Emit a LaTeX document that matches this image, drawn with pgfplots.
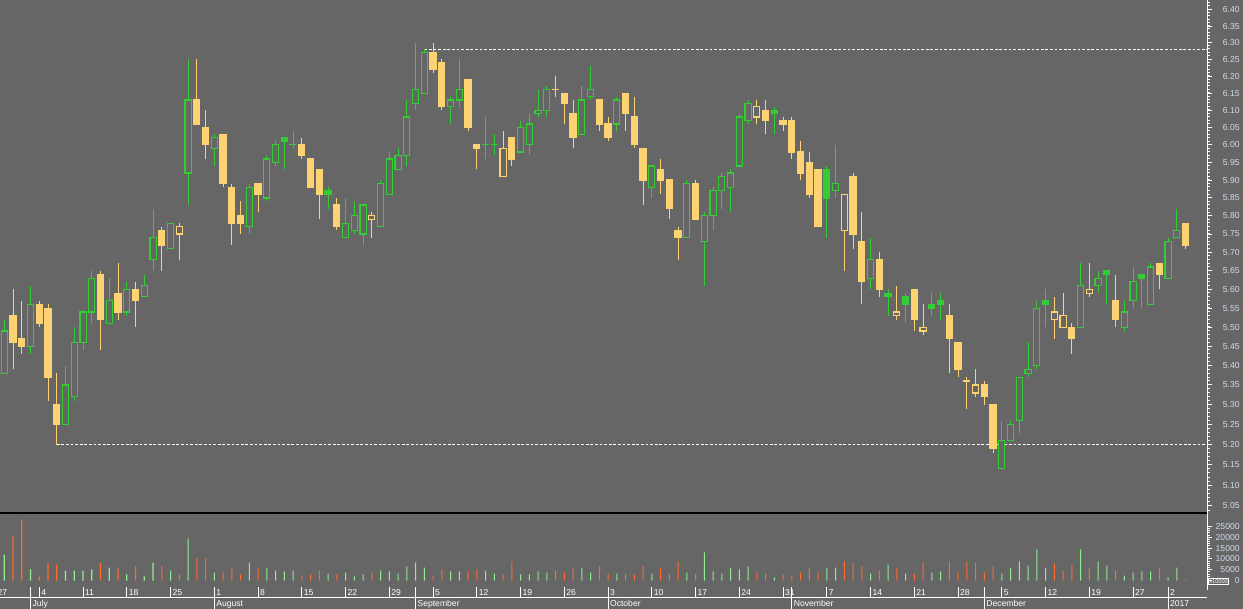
\documentclass[border=0pt]{standalone}
\usepackage{fontspec}
\setmainfont{Liberation Sans}
\usepackage{pgfplots}
\usepackage{pgfplotstable}
\pgfplotsset{compat=1.18}

\definecolor{bg}{HTML}{666666}
\definecolor{upgreen}{HTML}{33CC33}
\definecolor{downyellow}{HTML}{FDD273}
\definecolor{volgreen}{HTML}{90EE90}
\definecolor{volorange}{HTML}{FF6A2A}
\definecolor{labelcol}{HTML}{D0DCEB}

\newcommand\lblfont{\fontsize{4.3}{5}\selectfont}

% t: 0 green hollow, 1 yellow filled, 2 yellow hollow, 3 green filled
\pgfplotstableread{
i o h l c t v
1 5.38 5.52 5.38 5.49 0 12000
2 5.53 5.60 5.39 5.46 1 20400
3 5.47 5.57 5.43 5.45 1 28200
4 5.45 5.61 5.43 5.56 0 5100
5 5.56 5.57 5.50 5.51 1 1900
6 5.55 5.56 5.31 5.37 1 8300
7 5.30 5.38 5.20 5.25 1 7400
8 5.25 5.40 5.25 5.35 0 4600
9 5.32 5.50 5.31 5.46 0 4600
10 5.46 5.54 5.44 5.54 0 4600
11 5.54 5.65 5.51 5.63 0 5100
12 5.64 5.65 5.44 5.52 1 8300
13 5.51 5.63 5.51 5.57 0 6000
14 5.59 5.67 5.52 5.54 1 5600
15 5.54 5.62 5.53 5.60 0 2800
16 5.60 5.62 5.50 5.57 1 6500
17 5.58 5.64 5.58 5.61 0 1900
18 5.68 5.82 5.65 5.74 0 8300
19 5.76 5.77 5.65 5.72 1 6900
20 5.71 5.78 5.71 5.78 0 4600
21 5.75 5.78 5.68 5.77 2 2800
22 5.92 6.25 5.83 6.13 0 19400
23 6.13 6.25 6.06 6.06 1 10600
24 6.05 6.10 5.96 6.00 1 10200
25 5.99 6.03 5.94 6.02 0 3700
26 6.03 6.03 5.88 5.89 1 3700
27 5.88 5.89 5.72 5.78 1 6000
28 5.80 5.84 5.75 5.78 1 2800
29 5.77 5.89 5.75 5.88 0 8300
30 5.89 5.89 5.81 5.86 1 6000
31 5.85 5.97 5.84 5.96 0 6000
32 5.95 6.01 5.94 6.00 0 4600
33 6.02 6.02 5.93 6.01 3 4200
34 6.00 6.04 5.99 6.00 3 4600
35 6.00 6.02 5.96 5.97 1 2300
36 5.96 5.96 5.88 5.88 1 2800
37 5.93 5.93 5.79 5.86 1 4600
38 5.87 5.88 5.82 5.86 3 3200
39 5.83 5.85 5.76 5.77 1 2800
40 5.74 5.85 5.74 5.78 0 3700
41 5.76 5.84 5.75 5.80 0 1900
42 5.75 5.83 5.72 5.83 0 2800
43 5.79 5.81 5.74 5.80 2 3700
44 5.77 5.90 5.77 5.89 0 4600
45 5.86 5.98 5.86 5.96 0 4200
46 5.93 5.99 5.93 5.97 0 3200
47 5.97 6.13 5.94 6.08 0 6500
48 6.12 6.30 6.10 6.16 0 8300
49 6.15 6.28 6.15 6.27 0 6000
50 6.27 6.30 6.21 6.22 1 2300
51 6.24 6.25 6.10 6.11 1 5100
52 6.11 6.14 6.06 6.13 0 4200
53 6.13 6.25 6.11 6.16 0 4200
54 6.19 6.19 6.04 6.05 1 4200
55 6.00 6.00 5.93 5.99 1 5100
56 6.00 6.08 5.96 6.00 3 4600
57 6.00 6.03 5.97 6.00 3 3200
58 5.91 6.04 5.91 5.99 2 3200
59 6.02 6.02 5.94 5.96 1 8800
60 5.98 6.07 5.98 6.05 0 2800
61 6.00 6.09 5.97 6.06 0 2800
62 6.09 6.16 6.08 6.10 0 4200
63 6.10 6.17 6.08 6.16 0 3700
64 6.16 6.20 6.14 6.16 2 4600
65 6.15 6.15 6.06 6.12 1 3700
66 6.09 6.13 5.99 6.02 1 6000
67 6.03 6.17 6.03 6.13 0 6000
68 6.14 6.23 6.13 6.16 0 3700
69 6.13 6.13 6.04 6.06 1 6500
70 6.06 6.08 6.01 6.02 1 3200
71 6.06 6.14 6.04 6.13 0 3200
72 6.15 6.15 6.04 6.09 1 3200
73 6.08 6.14 5.99 6.00 1 2800
74 5.99 5.99 5.83 5.90 1 6900
75 5.88 5.94 5.85 5.94 0 3200
76 5.93 5.96 5.86 5.90 1 6000
77 5.90 5.90 5.79 5.82 1 2800
78 5.76 5.77 5.68 5.74 1 8800
79 5.74 5.90 5.74 5.89 0 3700
80 5.89 5.90 5.79 5.79 1 3200
81 5.73 5.81 5.61 5.80 0 13000
82 5.80 5.88 5.76 5.87 0 4200
83 5.87 5.92 5.82 5.91 0 3200
84 5.88 5.93 5.81 5.92 0 6000
85 5.94 6.09 5.94 6.08 0 5100
86 6.07 6.13 6.06 6.12 0 6500
87 6.08 6.13 6.06 6.11 2 3700
88 6.10 6.13 6.03 6.07 1 3200
89 6.10 6.11 6.03 6.09 3 1400
90 6.07 6.08 6.04 6.06 1 2800
91 6.07 6.08 5.96 5.98 1 1900
92 5.98 6.01 5.90 5.92 1 3700
93 5.95 5.98 5.85 5.86 1 6000
94 5.93 5.93 5.77 5.77 1 3500
95 5.93 5.94 5.74 5.85 3 6000
96 5.87 6.00 5.85 5.89 0 6000
97 5.76 5.86 5.65 5.86 2 8800
98 5.91 5.92 5.71 5.75 1 8300
99 5.73 5.81 5.56 5.62 1 6500
100 5.63 5.74 5.60 5.68 0 3200
101 5.68 5.70 5.58 5.60 1 4600
102 5.59 5.60 5.53 5.58 3 7400
103 5.53 5.61 5.52 5.54 2 6000
104 5.58 5.59 5.51 5.56 3 3200
105 5.60 5.60 5.49 5.52 1 3200
106 5.49 5.56 5.48 5.50 2 8300
107 5.56 5.59 5.53 5.55 3 3700
108 5.57 5.59 5.52 5.56 3 4200
109 5.53 5.56 5.38 5.47 1 8800
110 5.46 5.46 5.37 5.39 1 3700
111 5.36 5.37 5.29 5.36 2 8800
112 5.33 5.39 5.32 5.35 2 8300
113 5.35 5.36 5.30 5.32 1 3700
114 5.30 5.30 5.18 5.19 1 6500
115 5.14 5.26 5.14 5.21 0 3200
116 5.21 5.26 5.21 5.25 0 6000
117 5.26 5.37 5.23 5.37 0 8800
118 5.38 5.46 5.37 5.39 0 6900
119 5.40 5.57 5.39 5.55 0 14400
120 5.57 5.60 5.50 5.56 3 6000
121 5.52 5.58 5.47 5.54 2 7900
122 5.50 5.59 5.50 5.53 2 4600
123 5.50 5.51 5.43 5.47 1 7400
124 5.50 5.67 5.50 5.61 0 14400
125 5.59 5.67 5.58 5.60 2 6000
126 5.61 5.65 5.59 5.63 0 8800
127 5.65 5.65 5.56 5.64 3 6900
128 5.57 5.64 5.50 5.52 1 4600
129 5.50 5.57 5.49 5.54 0 2300
130 5.57 5.66 5.55 5.62 0 3700
131 5.64 5.64 5.55 5.63 3 4200
132 5.56 5.67 5.56 5.66 0 4200
133 5.67 5.67 5.60 5.64 1 6000
134 5.63 5.74 5.63 5.73 0 1400
135 5.74 5.82 5.74 5.76 0 6000
136 5.78 5.78 5.71 5.72 1 500
}\pricedata

\pgfplotstablegetrowsof{\pricedata}
\pgfmathtruncatemacro{\lastrow}{\pgfplotsretval-1}

\pgfplotsset{
  wick0/.style={draw=upgreen, line width=0.5pt},
  wick1/.style={draw=downyellow, line width=0.5pt},
  wick2/.style={draw=downyellow, line width=0.5pt},
  wick3/.style={draw=upgreen, line width=0.5pt},
  body0/.style={draw=upgreen, fill=bg, line width=0.6pt, line cap=rect},
  body1/.style={draw=downyellow, fill=downyellow, line width=0.6pt, line cap=rect},
  body2/.style={draw=downyellow, fill=bg, line width=0.6pt, line cap=rect},
  body3/.style={draw=upgreen, fill=upgreen, line width=0.6pt, line cap=rect},
}

\begin{document}
\begin{tikzpicture}
\fill[bg] (0,0) rectangle (621.5pt,304.5pt);
\useasboundingbox (0,0) rectangle (621.5pt,304.5pt);

% price panel
\begin{axis}[
  name=main, at={(0pt,48pt)}, anchor=south west,
  scale only axis, width=603.5pt, height=256.5pt,
  xmin=0.509, xmax=138.45,
  ymode=log, ymin=5.0331, ymax=6.430,
  axis line style={draw=none},
  xtick=\empty,
  ytick={5.05,5.10,5.15,5.20,5.25,5.30,5.35,5.40,5.45,5.50,5.55,5.60,5.65,5.70,
         5.75,5.80,5.85,5.90,5.95,6.00,6.05,6.10,6.15,6.20,6.25,6.30,6.35,6.40},
  minor ytick={5.04,5.05,...,6.43},
  ytick pos=right, yticklabel pos=right, tick align=outside,
  major tick length=2.5pt, minor tick length=1.5pt,
  tick style={white, line width=0.5pt},
  /pgf/number format/assume math mode=true,
  yticklabel={\pgfmathparse{exp(\tick)}\pgfmathprintnumber[fixed,fixed zerofill,precision=2]{\pgfmathresult}},
  yticklabel style={anchor=east, inner sep=0pt, xshift=14pt, text=labelcol, font=\lblfont},
]
\addplot[white, line width=0.5pt, dash pattern=on 1.4pt off 0.9pt] coordinates {(49,6.28) (138.45,6.28)};
\addplot[white, line width=0.5pt, dash pattern=on 1.4pt off 0.9pt] coordinates {(7,5.20) (138.45,5.20)};
\pgfplotsforeachungrouped \rowi in {0,...,\lastrow}{%
  \pgfplotstablegetelem{\rowi}{i}\of\pricedata\let\ci\pgfplotsretval
  \pgfplotstablegetelem{\rowi}{o}\of\pricedata\let\co\pgfplotsretval
  \pgfplotstablegetelem{\rowi}{h}\of\pricedata\let\ch\pgfplotsretval
  \pgfplotstablegetelem{\rowi}{l}\of\pricedata\let\cl\pgfplotsretval
  \pgfplotstablegetelem{\rowi}{c}\of\pricedata\let\cc\pgfplotsretval
  \pgfplotstablegetelem{\rowi}{t}\of\pricedata\let\ct\pgfplotsretval
  \pgfmathsetmacro\xl{\ci-0.35}%
  \pgfmathsetmacro\xr{\ci+0.35}%
  \edef\temp{%
    \noexpand\addplot[wick\ct] coordinates {(\ci,\cl) (\ci,\ch)};
    \noexpand\addplot[body\ct] coordinates {(\xl,\co) (\xr,\co) (\xr,\cc) (\xl,\cc) (\xl,\co)};
  }%
  \temp
}
\end{axis}

% volume panel
\begin{axis}[
  name=vol, at={(0pt,11pt)}, anchor=south west,
  scale only axis, width=603.5pt, height=37pt,
  xmin=0.509, xmax=138.45, ymin=-3000, ymax=31250,
  axis line style={draw=none},
  xtick=\empty,
  ytick={0,5000,10000,15000,20000,25000}, minor y tick num=4,
  ytick pos=right, yticklabel pos=right, tick align=outside,
  major tick length=2.5pt, minor tick length=1.5pt,
  tick style={white, line width=0.5pt},
  scaled y ticks=false,
  /pgf/number format/assume math mode=true,
  /pgf/number format/1000 sep={},
  yticklabel style={anchor=east, inner sep=0pt, xshift=14pt, text=labelcol, font=\lblfont},
  clip=false,
]
\addplot[ybar, bar width=0.55pt, bar shift=0pt, fill=volgreen, draw=none,
  restrict expr to domain={abs(\thisrow{t}-1.5)}{1.4:2}] table[x=i, y=v] {\pricedata};
\addplot[ybar, bar width=0.55pt, bar shift=0pt, fill=volorange, draw=none,
  restrict expr to domain={abs(\thisrow{t}-1.5)}{0:1}] table[x=i, y=v] {\pricedata};
\end{axis}

% date rows
\begin{axis}[
  name=dates, at={(0pt,11pt)}, anchor=south west,
  scale only axis, width=603.5pt, height=37pt,
  xmin=0.509, xmax=138.45, ymin=0, ymax=1,
  axis line style={draw=none}, ytick=\empty,
  xtick={5,10,...,130,134},
  xticklabels={4,11,18,25,1,8,15,22,29,5,12,19,26,3,10,17,24,31,7,14,21,28,5,12,19,27,2},
  xtick pos=bottom, tick align=outside,
  major tick length=5.5pt,
  tick style={white, line width=0.5pt},
  xticklabel style={anchor=north west, inner sep=0pt, xshift=0.8pt, yshift=4.3pt, text=white, font=\lblfont},
  extra x ticks={4,25,48,70,91,113,134},
  extra x tick labels={July,August,September,October,November,December,2017},
  extra x tick style={major tick length=11pt, xticklabel style={yshift=0.2pt}},
]
\end{axis}

\draw[white, line width=0.5pt] (0pt,5.5pt) -- (603.5pt,5.5pt);
\draw[black, line width=0.6pt] (main.south west) -- (main.south east);
\draw[white, line width=0.5pt] (main.north east) -- ([yshift=-1.5pt]vol.south east);
\node[anchor=north west, inner sep=0pt, text=white, font=\lblfont] at (-1.4pt,10pt) {27};
\node[draw=white, line width=0.3pt, inner sep=0.4pt, text=white,
      font=\fontsize{2.8}{3}\selectfont] at (609.3pt,13.75pt) {x10000};
\end{tikzpicture}
\end{document}
